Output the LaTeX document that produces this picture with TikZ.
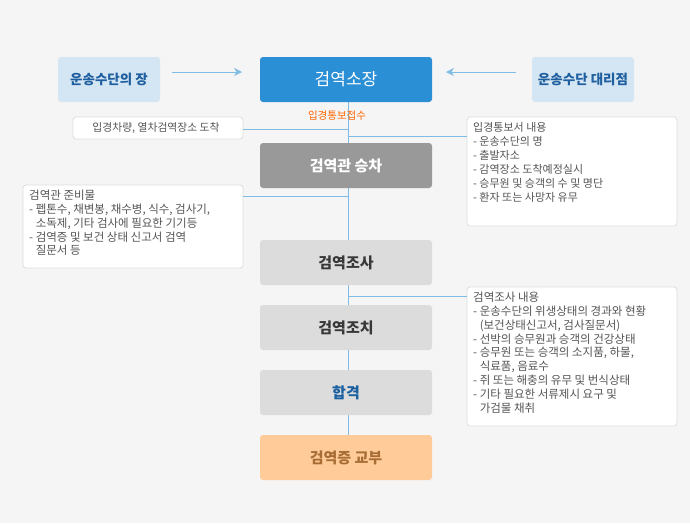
\documentclass[tikz,border=0pt]{standalone}
\usepackage{fontspec}
\setmainfont{Noto Sans CJK KR}
\usetikzlibrary{arrows.meta}
\definecolor{bg}{HTML}{F5F5F5}
\definecolor{lineblue}{HTML}{7FBBE3}
\definecolor{mainblue}{HTML}{2B8FD6}
\definecolor{sidefill}{HTML}{D4E6F3}
\definecolor{sidetext}{HTML}{1F5F9F}
\definecolor{stepgrey}{HTML}{DCDCDC}
\definecolor{darkgrey}{HTML}{999999}
\definecolor{orangefill}{HTML}{FFCC99}
\definecolor{orangetext}{HTML}{A86D35}
\definecolor{notetext}{HTML}{555555}
\definecolor{noteborder}{HTML}{DDDDDD}
\definecolor{orangelabel}{HTML}{FF6600}
\definecolor{passblue}{HTML}{1A5FA0}
\begin{document}
\begin{tikzpicture}[x=1pt,y=-1pt,
  mainbox/.style={rounded corners=3pt, minimum width=172pt, minimum height=45pt, inner sep=0pt, font=\bfseries\fontsize{15}{17}\selectfont},
  sidebox/.style={rounded corners=3pt, fill=sidefill, minimum width=102pt, minimum height=45pt, inner sep=0pt, text=sidetext, font=\bfseries\fontsize{13.5}{15}\selectfont},
  notebox/.style={draw=noteborder, fill=white, rounded corners=3pt, line width=0.8pt},
  notetxt/.style={anchor=north west, inner sep=0pt, align=left, text=notetext, font=\fontsize{11.5}{13.8}\selectfont},
  conn/.style={draw=lineblue, line width=0.9pt},
  arr/.style={draw=lineblue, line width=0.9pt, -{Stealth[length=8pt,width=8pt]}}
]
\fill[bg] (0,0) rectangle (690,523);
\useasboundingbox (0,0) rectangle (690,523);

% vertical spine
\coordinate (top) at (348,102);
\coordinate (bot) at (348,435);
\draw[conn] (top) -- (bot);

% main boxes
\node[mainbox, fill=mainblue, text=white, font=\fontsize{17}{19}\selectfont] (m1) at (346,79.5) {검역소장};
\node[mainbox, fill=darkgrey, text=white] (m2) at (346,165.5) {검역관 승차};
\node[mainbox, fill=stepgrey, text=black!78] (m3) at (346,262.5) {검역조사};
\node[mainbox, fill=stepgrey, text=black!78] (m4) at (346,327.5) {검역조치};
\node[mainbox, fill=stepgrey, text=passblue] (m5) at (346,392.5) {합격};
\node[mainbox, fill=orangefill, text=orangetext] (m6) at (346,457.5) {검역증 교부};

% side boxes
\node[sidebox] (s1) at (109,79.5) {운송수단의 장};
\node[sidebox] (s2) at (583,79.5) {운송수단 대리점};
\coordinate (a1s) at (172,72);
\coordinate (a1e) at (242,72);
\coordinate (a2s) at (516,72);
\coordinate (a2e) at (446,72);
\draw[arr] (a1s) -- (a1e);
\draw[arr] (a2s) -- (a2e);

% orange label
\node[text=orangelabel, font=\fontsize{10.5}{12}\selectfont, inner sep=0pt] (lab) at (337,116) {입경통보접수};

% note 1
\draw[notebox] (73,117) rectangle (243,139);
\node[text=notetext, font=\fontsize{10.8}{12}\selectfont, inner sep=0pt] (n1) at (156,128) {입경차량, 열차검역장소 도착};
\coordinate (j1) at (348,129);
\coordinate (n1e) at (243,129);
\draw[conn] (n1e) -- (j1);

% note 2 (right)
\draw[notebox] (467,117) rectangle (677,226);
\node[notetxt, font=\fontsize{11}{13.9}\selectfont] (n2) at (473,122.5) {입경통보서 내용\\- 운송수단의 명\\- 출발자소\\- 감역장소 도착예정실시\\- 승무원 및 승객의 수 및 명단\\- 환자 또는 사망자 유무};
\coordinate (j2) at (348,136);
\coordinate (n2e) at (467,136);
\draw[conn] (j2) -- (n2e);

% note 3 (left)
\draw[notebox] (23,185) rectangle (243,268);
\node[notetxt] (n3) at (29,190) {검역관 준비물\\- 펩톤수, 채변봉, 채수병, 식수, 검사기,\\\hphantom{- }소독제, 기타 검사에 필요한 기기등\\- 검역증 및 보건 상태 신고서 검역\\\hphantom{- }질문서 등};
\coordinate (j3) at (348,196);
\coordinate (n3e) at (243,196);
\draw[conn] (n3e) -- (j3);

% note 4 (right)
\draw[notebox] (467,287) rectangle (677,426);
\node[notetxt] (n4) at (473,292) {검역조사 내용\\- 운송수단의 위생상태의 경과와 현황\\\hphantom{- }(보건상태신고서, 검사질문서)\\- 선박의 승무원과 승객의 건강상태\\- 승무원 또는 승객의 소지품, 하물,\\\hphantom{- }식료품, 음료수\\- 쥐 또는 해충의 유무 및 번식상태\\- 기타 필요한 서류제시 요구 및\\\hphantom{- }가검물 채취};
\coordinate (j4) at (348,296);
\coordinate (n4e) at (467,296);
\draw[conn] (j4) -- (n4e);
\end{tikzpicture}
\end{document}
